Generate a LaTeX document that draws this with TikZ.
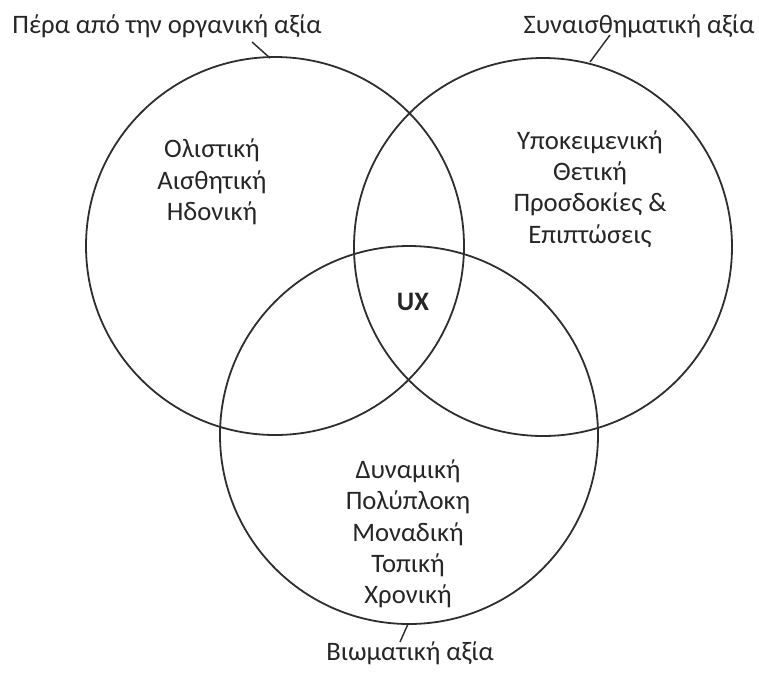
\documentclass[tikz,border=0pt]{standalone}
\usepackage{fontspec}
\setmainfont{Carlito}
\begin{document}
\begin{tikzpicture}[x={(0.75pt,0)}, y={(0,-0.75pt)},
  ring/.style={draw=black!82, line width=1.35pt},
  lead/.style={draw=black!82, line width=1.1pt},
  txt/.style={text=black!85, font=\fontsize{20}{23.5}\selectfont, align=center, inner sep=0pt},
  captext/.style={text=black!85, font=\fontsize{20}{22}\selectfont, inner sep=0pt}]
  \useasboundingbox (0,0) rectangle (759,679);
  % the three value circles
  \draw[ring] (275,246) circle[radius=189];
  \draw[ring] (543,247) circle[radius=189];
  \draw[ring] (409,435) circle[radius=189];
  % region texts
  \node[txt] (hol) at (212,182) {Ολιστική\\Αισθητική\\Ηδονική};
  \node[txt] (sub) at (590,189) {Υποκειμενική\\Θετική\\Προσδοκίες \&\\Επιπτώσεις};
  \node[txt, font=\fontsize{20}{22}\selectfont\bfseries] (ux) at (413,302) {UX};
  \node[txt] (dyn) at (408,534) {Δυναμική\\Πολύπλοκη\\Μοναδική\\Τοπική\\Χρονική};
  % circle captions with leader lines
  \node[captext] (c1) at (167,26) {Πέρα από την οργανική αξία};
  \node[captext] (c2) at (639,26) {Συναισθηματική αξία};
  \node[captext] (c3) at (410,653) {Βιωματική αξία};
  \coordinate (p1) at (270,58);
  \coordinate (p2) at (590,62);
  \coordinate (p3) at (408,624);
  \draw[lead] (252,42) -- (p1);
  \draw[lead] (610,35) -- (p2);
  \draw[lead] (p3) -- (400,642);
\end{tikzpicture}
\end{document}
